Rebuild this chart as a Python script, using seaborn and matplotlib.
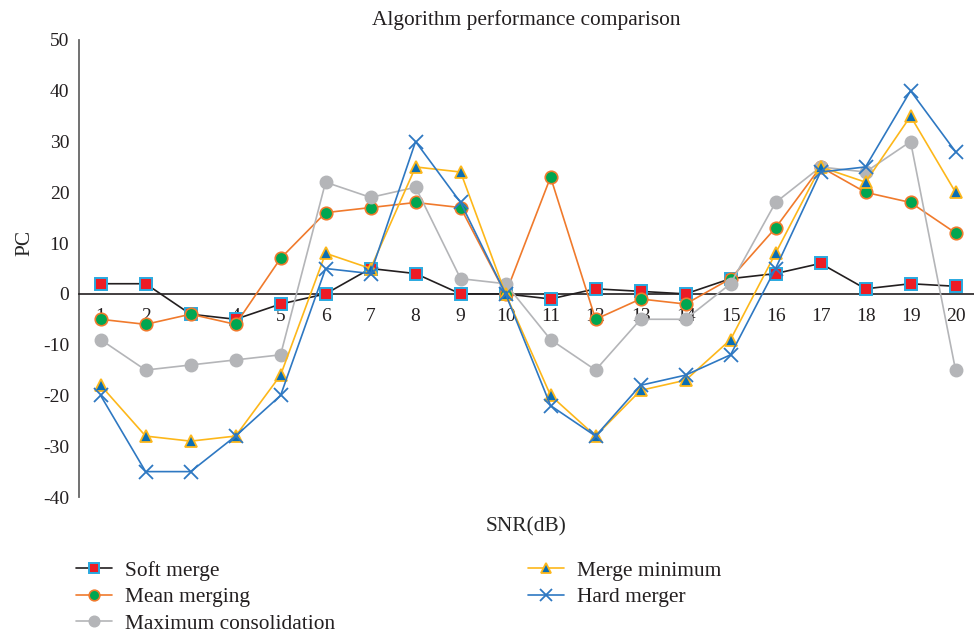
import matplotlib
matplotlib.use("Agg")
import matplotlib.pyplot as plt
import pandas as pd
import seaborn as sns

# SNR steps on the category axis
snr = list(range(1, 21))

# PC values of each fusion rule
soft_merge = [2, 2, -4, -5, -2, 0, 5, 4, 0, 0, -1, 1, 0.5, 0, 3, 4, 6, 1, 2, 1.5]
mean_merging = [-5, -6, -4, -6, 7, 16, 17, 18, 17, 0, 23, -5, -1, -2, 3, 13, 25, 20, 18, 12]
max_consolidation = [-9, -15, -14, -13, -12, 22, 19, 21, 3, 2, -9, -15, -5, -5, 2, 18, 25, 24, 30, -15]
merge_minimum = [-18, -28, -29, -28, -16, 8, 5, 25, 24, 0, -20, -28, -19, -17, -9, 8, 25, 22, 35, 20]
hard_merger = [-20, -35, -35, -28, -20, 5, 4, 30, 18, 0, -22, -28, -18, -16, -12, 5, 24, 25, 40, 28]

series_names = ["Soft merge", "Mean merging", "Maximum consolidation",
                "Merge minimum", "Hard merger"]
series_values = [soft_merge, mean_merging, max_consolidation, merge_minimum, hard_merger]

yticks = [-40, -30, -20, -10, 0, 10, 20, 30, 40, 50]

# line colour, marker, marker face, marker edge, marker size
styles = {
    "Soft merge": dict(color="#231F20", marker="s", mfc="#ED1C24", mec="#29A9E0", ms=8.2, mew=1.4),
    "Mean merging": dict(color="#F07A2C", marker="o", mfc="#00A651", mec="#F07A2C", ms=9.0, mew=1.2),
    "Maximum consolidation": dict(color="#B4B5B8", marker="o", mfc="#B4B5B8", mec="#B4B5B8", ms=9.0, mew=1.0),
    "Merge minimum": dict(color="#FDB71A", marker="^", mfc="#0A6EB4", mec="#FDB71A", ms=9.0, mew=1.3),
    "Hard merger": dict(color="#2E78C2", marker="x", mfc="#2E78C2", mec="#2E78C2", ms=9.5, mew=1.3),
}

frames = []
for name, vals in zip(series_names, series_values):
    frames.append(pd.DataFrame({"SNR": snr, "PC": vals, "method": name}))
df = pd.concat(frames, ignore_index=True)

sns.set_style("white")
plt.rcParams["font.family"] = ["Liberation Serif", "DejaVu Serif"]
plt.rcParams["text.color"] = "#231F20"

fig = plt.figure(figsize=(9.74, 6.37), dpi=100)
W, H = 974, 637
left, right, top, bottom = 79, 974, 40, 497
ax = fig.add_axes([left / W, (H - bottom) / H, (right - left) / W, (bottom - top) / H])

for name in series_names:
    st = styles[name]
    sub = df[df["method"] == name]
    sns.lineplot(data=sub, x="SNR", y="PC", ax=ax, label=name,
                 color=st["color"], marker=st["marker"],
                 markerfacecolor=st["mfc"], markeredgecolor=st["mec"],
                 markersize=st["ms"], markeredgewidth=st["mew"],
                 linewidth=1.2, errorbar=None, zorder=3)

ax.set_xlim(0.52, 20.41)
ax.set_ylim(-40, 50)
ax.set_xticks(snr)
ax.set_xticklabels([str(s) for s in snr])
ax.set_yticks(yticks)
ax.set_yticklabels([str(t) for t in yticks])

# category axis crosses the value axis at zero
ax.spines["bottom"].set_position(("data", 0))
ax.spines["bottom"].set_color("#231F20")
ax.spines["bottom"].set_linewidth(1.2)
ax.spines["left"].set_color("#666666")
ax.spines["left"].set_linewidth(1.3)
ax.spines["top"].set_visible(False)
ax.spines["right"].set_visible(False)
ax.grid(False)

ax.tick_params(axis="x", length=0, pad=10, labelsize=14, labelcolor="#231F20")
ax.tick_params(axis="y", length=0, pad=7, labelsize=14, labelcolor="#231F20")

ax.set_title("Algorithm performance comparison", fontsize=15.4, pad=10.5, color="#231F20")
ax.set_xlabel("SNR(dB)", fontsize=15.4)
ax.xaxis.set_label_coords(0.5, -0.045)
ax.set_ylabel("PC", fontsize=15.4)
ax.yaxis.set_label_coords(-0.05, 0.556)

handles, labels = ax.get_legend_handles_labels()
ax.get_legend().remove()
fig.legend(handles, labels, loc="upper left", bbox_to_anchor=(76 / W, (H - 561) / H),
           ncol=2, frameon=False, fontsize=15.4, borderpad=0, borderaxespad=0,
           handlelength=1.7, handletextpad=0.6, columnspacing=9.0, labelspacing=0.3,
           markerscale=0.85)

fig.savefig("out.png", dpi=100)
